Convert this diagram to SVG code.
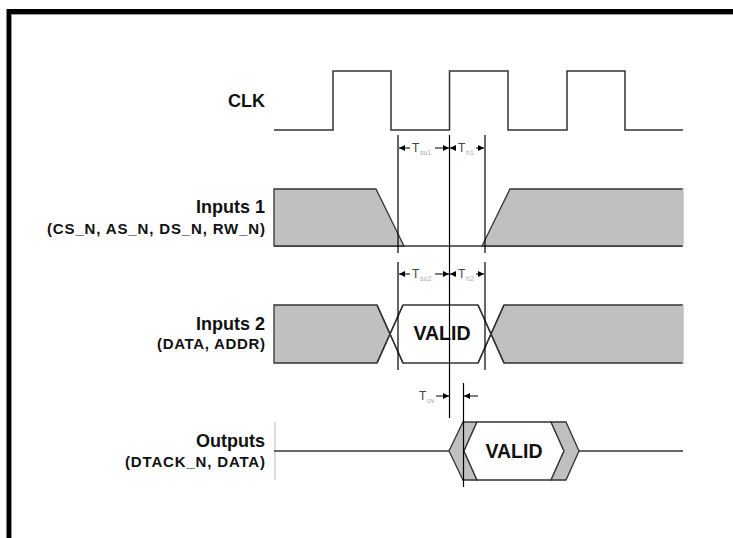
<svg xmlns="http://www.w3.org/2000/svg" width="733" height="538" viewBox="0 0 733 538">
<defs>
<style>
.lbl{font-family:"Liberation Sans",Arial,sans-serif;font-weight:bold;fill:#111;text-anchor:end}
.big{font-size:18px}
.sub{font-size:15px}
.valid{font-family:"Liberation Sans",Arial,sans-serif;font-weight:bold;font-size:19.5px;fill:#111;text-anchor:middle}
.t{font-family:"Liberation Sans",Arial,sans-serif;font-size:12px;fill:#444}
.ts{font-family:"Liberation Sans",Arial,sans-serif;font-size:7px;fill:#aaa}
.wave{fill:none;stroke:#333;stroke-width:1.5}
.bus{fill:#c0c0c0;stroke:#333;stroke-width:1.3}
.busw{fill:#fff;stroke:#333;stroke-width:1.3}
.vl{stroke:#000;stroke-width:1.2;fill:none}
.ar{stroke:#000;stroke-width:1;fill:none}
</style>
<marker id="ah" viewBox="0 0 6 6" refX="6" refY="3" markerWidth="6" markerHeight="6" markerUnits="userSpaceOnUse" orient="auto">
<path d="M0,0 L6,3 L0,6 z" fill="#000"/>
</marker>
</defs>
<rect width="733" height="538" fill="#fff"/>
<g id="frame">
<path d="M9,540 V11.5 H740" fill="none" stroke="#000" stroke-width="5"/>
<path d="M11.5,540 V14.5 H740" fill="none" stroke="#999" stroke-width="1"/>
</g>

<g id="lbl-clk"><text class="lbl big" x="265" y="107">CLK</text></g>
<g id="lbl-in1">
<text class="lbl big" x="265" y="213">Inputs 1</text>
<text class="lbl sub" x="265" y="234" textLength="218" lengthAdjust="spacing">(CS_N,  AS_N, DS_N, RW_N)</text>
</g>
<g id="lbl-in2">
<text class="lbl big" x="265" y="330">Inputs 2</text>
<text class="lbl sub" x="265" y="349" textLength="108" lengthAdjust="spacing">(DATA, ADDR)</text>
</g>
<g id="lbl-out">
<text class="lbl big" x="265" y="447">Outputs</text>
<text class="lbl sub" x="265" y="467" textLength="140" lengthAdjust="spacing">(DTACK_N, DATA)</text>
</g>

<g id="clk">
<path class="wave" d="M274,130 H333 V71 H391 V130 H449.5 V71 H508 V130 H567 V71 H625 V130 H683"/>
</g>

<g id="inputs1">
<line class="wave" x1="274" y1="246" x2="683" y2="246"/>
<path class="bus" d="M274,246 V189 H376 L404,246 Z"/>
<path class="bus" d="M683,246 H482 L510,189 H683"/>
<path d="M683,189 V246" stroke="#c0c0c0" stroke-width="1.5"/>
</g>

<g id="inputs2">
<path class="bus" d="M274,363 V305 H377 L390,334 L377,363 Z"/>
<path class="busw" d="M390,334 L403,305 H478 L491,334 L478,363 H403 Z"/>
<path class="bus" d="M683,305 H504 L491,334 L504,363 H683"/>
<path d="M683,305 V363" stroke="#c0c0c0" stroke-width="1.5"/>
<path d="M377,305 L403,363 M377,363 L403,305 M478,305 L504,363 M478,363 L504,305" class="wave" stroke-width="1.3"/>
<text class="valid" x="442" y="340">VALID</text>
</g>

<g id="outputs">
<line x1="275" y1="422" x2="275" y2="480" stroke="#bbb" stroke-width="1"/>
<line class="wave" x1="274" y1="451" x2="449" y2="451"/>
<path class="bus" d="M463,422 H477 L464,451 L477,480 H463 L449,451 Z"/>
<path class="busw" d="M477,422 H551 L564,451 L551,480 H477 L464,451 Z"/>
<path class="bus" d="M551,422 H566 L579,451 L566,480 H551 L564,451 Z"/>
<line class="wave" x1="579" y1="451" x2="683" y2="451"/>
<text class="valid" x="514" y="458">VALID</text>
</g>

<g id="connectors">
<line class="vl" x1="398" y1="135" x2="398" y2="253"/>
<line class="vl" x1="449.5" y1="135" x2="449.5" y2="418"/>
<line class="vl" x1="485" y1="135" x2="485" y2="253"/>
<line class="vl" x1="398" y1="262" x2="398" y2="370"/>
<line class="vl" x1="485" y1="262" x2="485" y2="370"/>
<line class="vl" x1="463.5" y1="383" x2="463.5" y2="487"/>
<line class="ar" x1="410" y1="148" x2="399" y2="148" marker-end="url(#ah)"/>
<line class="ar" x1="435" y1="148" x2="449" y2="148" marker-end="url(#ah)"/>
<line class="ar" x1="456" y1="148" x2="450" y2="148" marker-end="url(#ah)"/>
<line class="ar" x1="476" y1="148" x2="484" y2="148" marker-end="url(#ah)"/>
<line class="ar" x1="410" y1="274" x2="399" y2="274" marker-end="url(#ah)"/>
<line class="ar" x1="435" y1="274" x2="449" y2="274" marker-end="url(#ah)"/>
<line class="ar" x1="456" y1="274" x2="450" y2="274" marker-end="url(#ah)"/>
<line class="ar" x1="476" y1="274" x2="484" y2="274" marker-end="url(#ah)"/>
<line class="ar" x1="436" y1="396" x2="449" y2="396" marker-end="url(#ah)"/>
<line class="ar" x1="478" y1="396" x2="464" y2="396" marker-end="url(#ah)"/>
</g>

<g id="timing-labels">
<text class="t" x="412" y="152">T</text><text class="ts" x="420" y="155">su1</text>
<text class="t" x="458" y="152">T</text><text class="ts" x="466" y="155">h1</text>
<text class="t" x="412" y="278">T</text><text class="ts" x="420" y="281">su2</text>
<text class="t" x="458" y="278">T</text><text class="ts" x="466" y="281">h2</text>
<text class="t" x="419" y="400">T</text><text class="ts" x="427" y="403">ov</text>
</g>
</svg>
